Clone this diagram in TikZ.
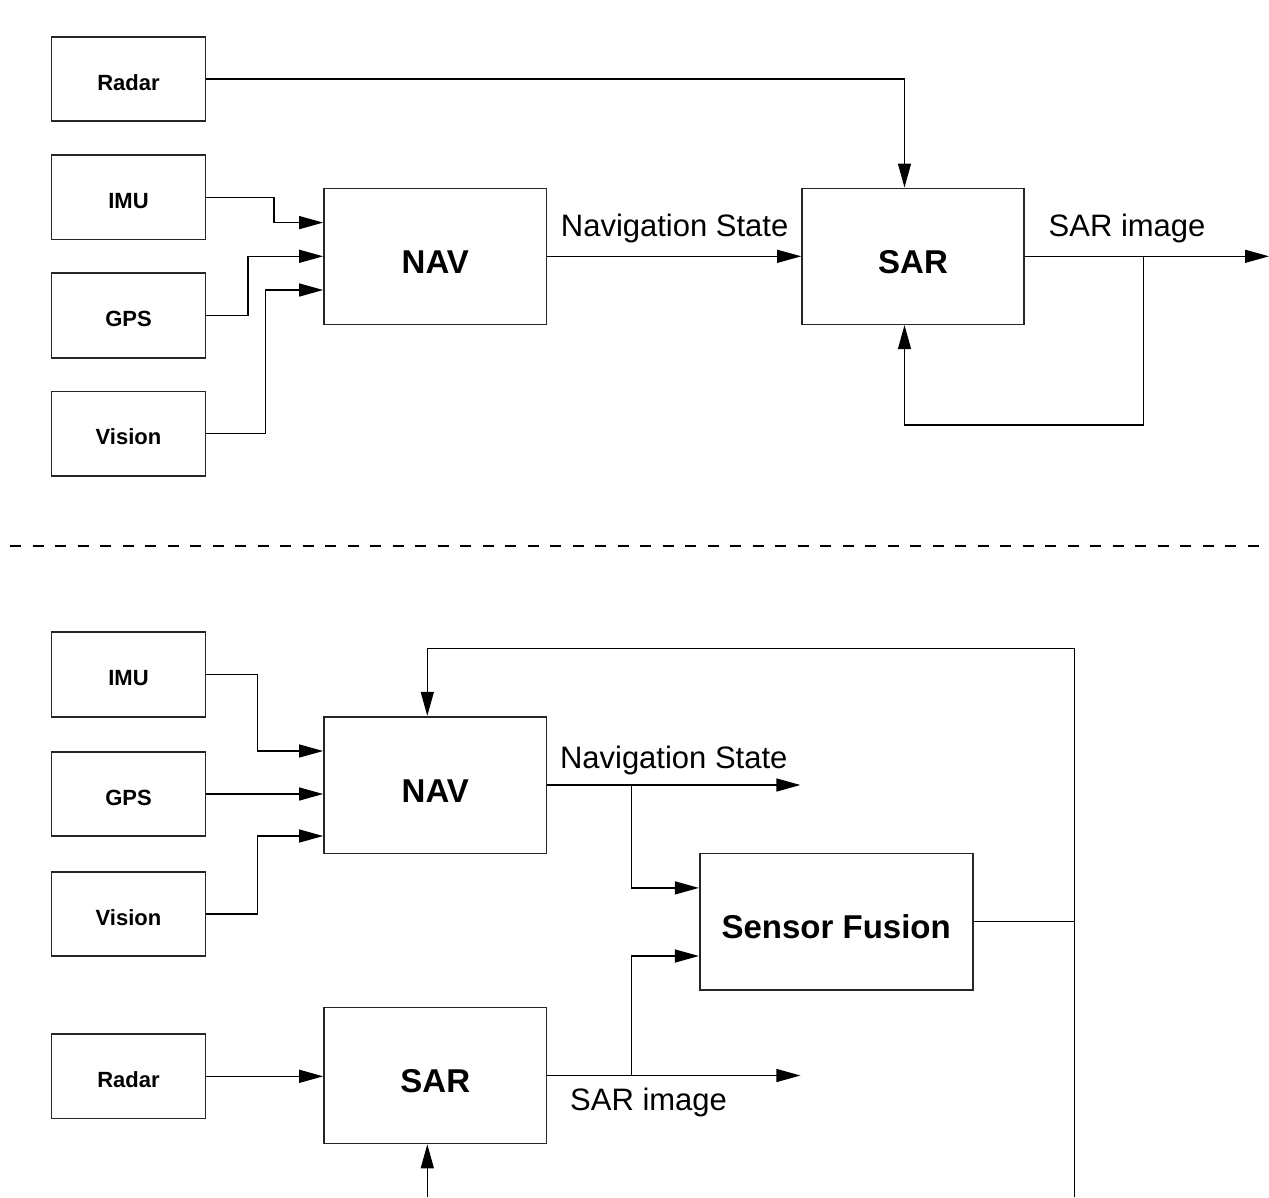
\documentclass[tikz,border=0pt]{standalone}
\usepackage{fontspec}
\setmainfont{Liberation Sans}
\usetikzlibrary{arrows.meta}
\begin{document}
\begin{tikzpicture}[x=1pt,y=-1pt,
  box/.style={draw=black!85, line width=1.6pt, inner sep=0pt,
    font=\bfseries\fontsize{22}{24}\selectfont, text height=22pt, text depth=0pt,
    minimum width=154pt, minimum height=84.5pt},
  big/.style={draw=black!85, line width=1.6pt, inner sep=0pt,
    font=\bfseries\fontsize{33}{36}\selectfont, text height=34pt, text depth=0pt,
    minimum width=222.7pt, minimum height=136pt},
  conn/.style={line width=1.3pt},
  arr/.style={conn, -{Triangle[length=24pt,width=13pt]}},
  lbl/.style={font=\fontsize{31}{34}\selectfont, inner sep=0pt}]
\useasboundingbox (0,0) rectangle (1269,1197);

% ---------- top diagram ----------
\node[box] (rT) at (128.5,79) {Radar};
\node[box] (iT) at (128.5,197.3) {IMU};
\node[box] (gT) at (128.5,315.5) {GPS};
\node[box] (vT) at (128.5,433.7) {Vision};
\node[big] (navT) at (435.3,256.3) {NAV};
\node[big, minimum width=222pt] (sarT) at (913,256.3) {SAR};
\coordinate (outT) at (1269,256.3);
\coordinate (fbT) at (1143.2,256.3);

\draw[arr] (rT.east) -| ([xshift=-8.5pt]sarT.north);
\draw[arr] (iT.east) -- ++(67.8,0) |- ([yshift=33.7pt]navT.west);
\draw[arr] (gT.east) -- ++(41.8,0) |- (navT.west);
\draw[arr] (vT.east) -- ++(59.5,0) |- ([yshift=-33.7pt]navT.west);
\draw[arr] (navT.east) -- (sarT.west);
\draw[arr] (sarT.east) -- (outT);
\draw[arr] (fbT) -- ++(0,168.7) -| ([xshift=-8.5pt]sarT.south);
\node[lbl, anchor=base west] (nsT) at (560.7,236.7) {Navigation State};
\node[lbl, anchor=base west] (siT) at (1048.5,236.7) {SAR image};

% ---------- separator ----------
\coordinate (sepL) at (10,546);
\coordinate (sepR) at (1269,546);
\draw[line width=2pt, dash pattern=on 11pt off 11.5pt] (sepL) -- (sepR);

% ---------- bottom diagram ----------
\node[box] (iB) at (128.5,674.5) {IMU};
\node[box] (gB) at (128.5,794) {GPS};
\node[box] (vB) at (128.5,914) {Vision};
\node[box] (rB) at (128.5,1076.3) {Radar};
\node[big, minimum height=136.6pt] (navB) at (435.3,785) {NAV};
\node[big] (sarB) at (435.3,1075.5) {SAR};
\node[big, minimum width=273pt, minimum height=136.7pt] (sfB) at (836.2,921.7) {Sensor Fusion};
\coordinate (nsOut) at (800.4,785);
\coordinate (siOut) at (800.4,1075.5);
\coordinate (brN) at (631.2,785);
\coordinate (brS) at (631.2,1075.5);
\coordinate (loopS) at (1074.5,1197);
\coordinate (loopN) at (1074.5,648.7);
\coordinate (sarIn) at (427.3,1197);

\draw[arr] (iB.east) -- ++(51.2,0) |- ([yshift=34pt]navB.west);
\draw[arr] (gB.east) -- (gB.east -| navB.west);
\draw[arr] (vB.east) -- ++(51.2,0) |- ([yshift=-51pt]navB.west);
\draw[arr] (rB.east) -- (rB.east -| sarB.west);
\draw[arr] (navB.east) -- (nsOut);
\draw[arr] (brN) |- ([yshift=33.8pt]sfB.west);
\draw[arr] (sarB.east) -- (siOut);
\draw[arr] (brS) |- ([yshift=-34.3pt]sfB.west);
\draw[conn] (sfB.east) -- (sfB.east -| loopN);
\draw[arr] (loopS) -- (loopN) -| ([xshift=-8pt]navB.north);
\draw[arr] (sarIn) -- ([xshift=-8pt]sarB.south);
\node[lbl, anchor=base west] (nsB) at (559.8,768.5) {Navigation State};
\node[lbl, anchor=base west] (siB) at (570,1110.5) {SAR image};
\end{tikzpicture}
\end{document}
